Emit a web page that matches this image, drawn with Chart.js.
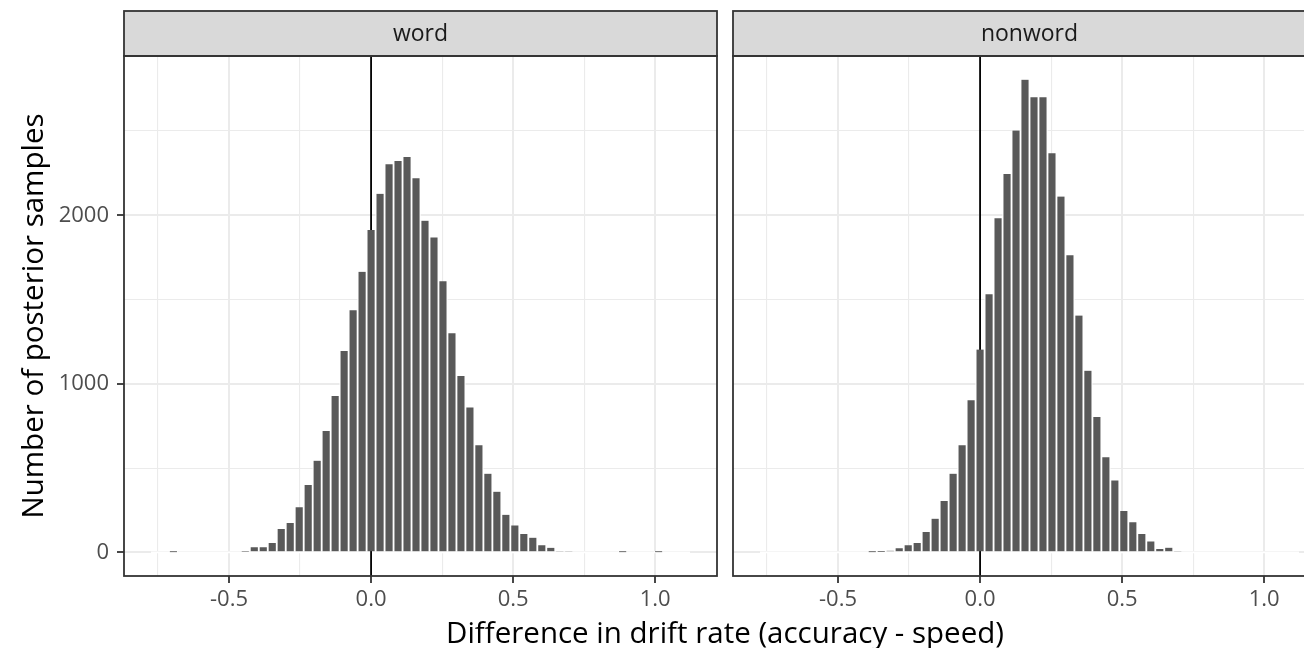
<!DOCTYPE html>
<html>
<head>
<meta charset="utf-8">
<script src="https://cdn.jsdelivr.net/npm/chart.js@4.4.1/dist/chart.umd.min.js"></script>
<style>
  html, body { margin: 0; padding: 0; overflow: hidden; background: #fff; }
  body { width: 1304px; height: 648px; position: relative; }
  canvas { position: absolute; top: 0; }
  #word { left: 0; }
  #nonword { left: 725px; }
  #xtitle {
    position: absolute; left: 0; width: 1450px; top: 615px;
    text-align: center; font: 29.5px "Open Sans"; line-height: 34px; color: #000;
  }
</style>
</head>
<body>
<canvas id="word" width="725" height="648"></canvas>
<canvas id="nonword" width="609" height="648"></canvas>
<div id="xtitle">Difference in drift rate (accuracy - speed)</div>
<script>
// histogram bins: 60 bins of equal width, centred on multiples of binWidth
const binWidth = 0.03162
const firstBin = -24   // index of the leftmost bin (centre = firstBin * binWidth)

// counts per bin, left to right
const wordCounts = [
  0, 0, 1, 0, 0, 0, 0, 0, 0, 0,
  3, 31, 31, 55, 138, 174, 267, 399, 544, 720,
  928, 1195, 1436, 1665, 1913, 2128, 2303, 2322, 2346, 2220,
  1968, 1869, 1608, 1300, 1046, 860, 635, 467, 360, 223,
  160, 109, 87, 42, 27, 8, 8, 0, 0, 0,
  0, 0, 1, 0, 0, 0, 1, 0, 0, 0
]
const nonwordCounts = [
  0, 0, 0, 0, 0, 0, 0, 0, 0, 0,
  0, 0, 1, 2, 10, 24, 42, 55, 121, 200,
  305, 467, 635, 902, 1203, 1531, 1982, 2245, 2503, 2805,
  2700, 2700, 2368, 2111, 1763, 1405, 1078, 803, 564, 427,
  245, 178, 109, 65, 20, 28, 8, 0, 0, 0,
  0, 0, 0, 0, 0, 0, 0, 0, 0, 0
]

const xTicks = [-0.75, -0.5, -0.25, 0, 0.25, 0.5, 0.75, 1.0]
const xMajor = [-0.5, 0, 0.5, 1.0]
const yTicks = [0, 500, 1000, 1500, 2000, 2500]
const yMajor = [0, 1000, 2000]
const refLine = 0

const centers = wordCounts.map((c, i) => (firstBin + i) * binWidth)
const loEdge = centers[0] - binWidth / 2
const hiEdge = centers[centers.length - 1] + binWidth / 2
const xPad = (hiEdge - loEdge) * 0.05
const yTop = Math.max(...wordCounts, ...nonwordCounts)

Chart.defaults.font.family = '"Open Sans"'

const isMajor = (list, v) => list.some(m => Math.abs(m - v) < 1e-9)
// grid options get a tick context; fall back to major styling otherwise
const tickMajor = (list, c) => !c.tick || isMajor(list, c.tick.value)

// strip, panel border, zero line and reference line
const panelDeco = {
  id: 'panelDeco',
  beforeDatasetsDraw(chart, args, opts) {
    const {ctx, chartArea: a, scales: {x, y}} = chart
    ctx.save()
    // empty bins leave a white outline along the baseline
    ctx.strokeStyle = '#fff'
    ctx.lineWidth = 1.6
    ctx.beginPath()
    ctx.moveTo(x.getPixelForValue(loEdge), y.getPixelForValue(0))
    ctx.lineTo(x.getPixelForValue(hiEdge), y.getPixelForValue(0))
    ctx.stroke()
    const rx = x.getPixelForValue(refLine)
    ctx.strokeStyle = '#000'
    ctx.lineWidth = 1.8
    ctx.beginPath()
    ctx.moveTo(rx, a.top)
    ctx.lineTo(rx, a.bottom)
    ctx.stroke()
    ctx.restore()
  },
  afterDraw(chart, args, opts) {
    const {ctx, chartArea: a} = chart
    ctx.save()
    ctx.fillStyle = '#D9D9D9'
    ctx.fillRect(a.left, 11, a.right - a.left, a.top - 11)
    ctx.strokeStyle = '#333333'
    ctx.lineWidth = 1.8
    ctx.strokeRect(a.left, 11, a.right - a.left, a.top - 11)
    ctx.strokeRect(a.left, a.top, a.right - a.left, a.bottom - a.top)
    ctx.fillStyle = '#1A1A1A'
    ctx.font = '23px "Open Sans"'
    ctx.textAlign = 'center'
    ctx.textBaseline = 'middle'
    ctx.fillText(opts.label, (a.left + a.right) / 2, (11 + a.top) / 2 + 1)
    ctx.restore()
  }
}

function makeChart(id, label, counts, showY) {
  return new Chart(document.getElementById(id), {
    type: 'bar',
    data: {
      datasets: [{
        data: counts.map((c, i) => ({x: centers[i], y: c})),
        backgroundColor: '#595959',
        borderColor: '#ffffff',
        borderWidth: {left: 1.25, right: 1.25, top: 0, bottom: 0},
        categoryPercentage: 1,
        barPercentage: 1
      }]
    },
    options: {
      responsive: false,
      animation: false,
      layout: {padding: {top: 56, right: 8, left: showY ? 0 : 8, bottom: 0}},
      plugins: {legend: {display: false}, tooltip: {enabled: false}, panelDeco: {label: label}},
      scales: {
        x: {
          type: 'linear',
          offset: false,
          min: loEdge - xPad,
          max: hiEdge + xPad,
          afterBuildTicks: s => { s.ticks = xTicks.map(v => ({value: v})) },
          afterFit: s => { s.height = 72 },
          border: {display: false},
          grid: {
            offset: false,
            color: '#EBEBEB',
            lineWidth: c => tickMajor(xMajor, c) ? 2 : 1.1,
            tickColor: c => tickMajor(xMajor, c) ? '#333333' : 'rgba(0,0,0,0)',
            tickLength: 7,
            tickWidth: 1.8
          },
          ticks: {
            autoSkip: false, maxRotation: 0, padding: 4,
            color: '#4D4D4D', font: {size: 22},
            callback: v => isMajor(xMajor, v) ? v.toFixed(1) : ''
          }
        },
        y: {
          min: -0.05 * yTop,
          max: 1.05 * yTop,
          afterBuildTicks: s => { s.ticks = yTicks.map(v => ({value: v})) },
          afterFit: s => { s.width = showY ? 124 : 0 },
          border: {display: false},
          title: {
            display: showY, text: 'Number of posterior samples',
            color: '#000', font: {size: 29.5}, padding: {top: 17, bottom: 0}
          },
          grid: {
            color: '#EBEBEB',
            lineWidth: c => tickMajor(yMajor, c) ? 2 : 1.1,
            drawTicks: showY,
            tickColor: c => tickMajor(yMajor, c) ? '#333333' : 'rgba(0,0,0,0)',
            tickLength: 7,
            tickWidth: 1.8
          },
          ticks: {
            display: showY, padding: 8,
            color: '#4D4D4D', font: {size: 22},
            callback: v => isMajor(yMajor, v) ? String(v) : ''
          }
        }
      }
    },
    plugins: [panelDeco]
  })
}

makeChart('word', 'word', wordCounts, true)
makeChart('nonword', 'nonword', nonwordCounts, false)
</script>
</body>
</html>
